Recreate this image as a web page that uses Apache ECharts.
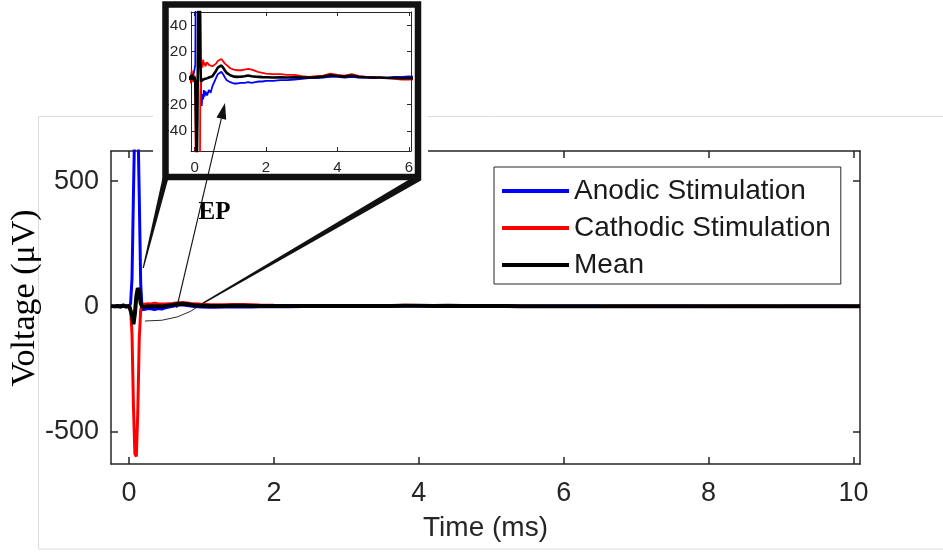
<!DOCTYPE html>
<html>
<head>
<meta charset="utf-8">
<script src="https://cdn.jsdelivr.net/npm/echarts@6/dist/echarts.min.js"></script>
<style>
  html, body { margin: 0; padding: 0; background: #ffffff; }
  #chart { width: 943px; height: 552px; }
</style>
</head>
<body>
<div id="chart"></div>
<script>
// Sample times (ms) of the averaged recordings
const time = [
  -0.25, -0.2, -0.16, -0.12, -0.08, -0.04, 0,
  0.02, 0.04, 0.06, 0.08, 0.1, 0.12, 0.14, 0.16, 0.18, 0.2, 0.22, 0.24, 0.26, 0.28, 0.3,
  0.35, 0.4, 0.45, 0.5, 0.55, 0.6, 0.65, 0.7, 0.75, 0.8, 0.85, 0.9,
  1.0, 1.1, 1.2, 1.3, 1.4, 1.5, 1.6, 1.7, 1.8, 1.9, 2.0,
  2.2, 2.4, 2.6, 2.8, 3.0, 3.2, 3.4, 3.6, 3.8, 4.0, 4.2, 4.4, 4.6, 4.8, 5.0, 5.2, 5.4, 5.6, 5.8, 6.0,
  6.5, 7.0, 7.5, 8.0, 8.5, 9.0, 9.5, 10.0, 10.09
];

// Anodic stimulation response (µV)
const anodic = [
  0, 1, -1, 2, -1, 1, 0,
  10, 110, 450, 760, 860, 760, 440, 90, -14, -21, -12, -16, -9, -14, -10,
  -13, -9, -11, -6, -3, 0, 3, 4.5, 4.8, 3, 0.5, -1.5,
  -3, -4, -4, -3.5, -3.5, -3, -3.5, -3, -2.5, -2.5, -2,
  -2, -1.5, -1.5, -1, -0.5, 0, 0, 0.5, 1, 1, 0.5, 1, 0.5, 0.5, 0, 0.5, 0.5, 1, 1, 1.3,
  0.5, 0, 0.5, 0, -0.5, 0, 0.5, 0, 0
];

// Cathodic stimulation response (µV)
const cathodic = [
  1, -2, 3, -4, 6, -3, 2,
  -10, -110, -400, -590, -600, -420, -130, -15, 9, 13, 8, 14, 10, 12, 9,
  12, 10, 9, 9, 10, 11, 13, 14, 14.5, 13, 11, 9.5,
  7.5, 6.5, 6, 6, 6.5, 7, 6.5, 5.5, 4.5, 4, 3.5,
  3, 3, 2.5, 2.5, 1.5, 1, 1.5, 2, 3.5, 2.5, 2, 3, 1.5, 1, 1, 0.5, 0, -0.5, -1, -1,
  -0.5, 0.5, 0, -0.5, 0.5, 0, -0.5, 0, 0
];

// Mean of the two polarities (µV)
const meanTrace = [
  0.5, -0.5, 1, -1, 2.5, -1, 1,
  -3, -35, -72, -30, 40, 72, 60, 12, -2.5, -4, -2, -1, 0.5, -1, -0.5,
  -0.5, 0.5, -1, 1.5, 3.5, 5.5, 8, 9.2, 9.6, 8, 5.8, 4,
  2.2, 1.2, 1, 1.2, 1.5, 2, 1.5, 1.2, 1, 0.8, 0.7,
  0.5, 0.7, 0.5, 0.7, 0.5, 0.5, 0.7, 1.2, 2.2, 1.7, 1.2, 2, 1, 0.7, 0.5, 0.5, 0.2, 0.2, 0, 0.1,
  0, 0.2, 0.2, -0.2, 0, 0, 0, 0, 0
];

const seriesNames = ['Anodic Stimulation', 'Cathodic Stimulation', 'Mean'];
const seriesColors = ['#0000ff', '#ff0000', '#000000'];

// Tick positions
const mainXTicks = [0, 2, 4, 6, 8, 10];
const mainYTicks = [-500, 0, 500];
const insetXTicks = [0, 2, 4, 6];
const insetYTicks = [-40, -20, 0, 20, 40];

const traces = [anodic, cathodic, meanTrace];
const pairs = v => time.map((t, i) => [t, v[i]]);

const axisGray = '#262626';
const sans = '"Liberation Sans", Arial, Helvetica, sans-serif';
const serif = '"Liberation Serif", "Times New Roman", serif';

function axisDef(grid, pos, min, max, ticks, showLabel, fontSize, tickLen, margin, width) {
  return {
    type: 'value', gridIndex: grid, position: pos, min: min, max: max, z: grid === 1 ? 20 : 0,
    axisLine: { show: true, onZero: false, lineStyle: { color: axisGray, width: width } },
    axisTick: { show: true, inside: true, length: tickLen, customValues: ticks,
                lineStyle: { color: axisGray, width: width } },
    axisLabel: { show: showLabel, customValues: ticks, color: axisGray, fontSize: fontSize,
                 fontFamily: sans, margin: margin },
    splitLine: { show: false }
  };
}

const mainX = axisDef(0, 'bottom', -0.25, 10.09, mainXTicks, true, 27, 7, 16, 1.5);
mainX.name = 'Time (ms)';
mainX.nameLocation = 'middle';
mainX.nameGap = 50;
mainX.nameTextStyle = { color: axisGray, fontSize: 28, fontFamily: sans };

const series = [];
traces.forEach((v, k) => {
  series.push({
    name: seriesNames[k], type: 'line', xAxisIndex: 0, yAxisIndex: 0,
    data: pairs(v), showSymbol: false, symbol: 'none', clip: true, z: 2 + k,
    lineStyle: { color: seriesColors[k], width: k === 2 ? 4 : 3 },
    itemStyle: { color: seriesColors[k] }
  });
});
traces.forEach((v, k) => {
  series.push({
    name: seriesNames[k], type: 'line', xAxisIndex: 2, yAxisIndex: 2,
    data: pairs(v), showSymbol: false, symbol: 'none', clip: true, z: 21 + k,
    lineStyle: { color: seriesColors[k], width: k === 2 ? 2.6 : 1.8 },
    itemStyle: { color: seriesColors[k] }
  });
});

// Callout geometry (arrow to the evoked potential)
const tail = [176.7, 308], tip = [225, 103];
const dx = tip[0] - tail[0], dy = tip[1] - tail[1], len = Math.hypot(dx, dy);
const ux = dx / len, uy = dy / len, headLen = 16, headHalf = 5;
const base = [tip[0] - ux * headLen, tip[1] - uy * headLen];

const option = {
  animation: false,
  backgroundColor: '#ffffff',
  grid: [
    { left: 111, top: 151, width: 749, height: 313, containLabel: false, outerBoundsMode: 'none' },
    { left: 191, top: 12, width: 220, height: 139, containLabel: false, outerBoundsMode: 'none' }
  ],
  xAxis: [
    mainX,
    axisDef(0, 'top', -0.25, 10.09, mainXTicks, false, 27, 7, 8, 1.5),
    axisDef(1, 'bottom', -0.1, 6.06, insetXTicks, true, 15, 4, 9, 1),
    axisDef(1, 'top', -0.1, 6.06, insetXTicks, false, 15, 4, 8, 1)
  ],
  yAxis: [
    axisDef(0, 'left', -630, 620, mainYTicks, true, 27, 7, 12, 1.5),
    axisDef(0, 'right', -630, 620, mainYTicks, false, 27, 7, 8, 1.5),
    axisDef(1, 'left', -55, 50, insetYTicks, true, 15.5, 4, 4, 1),
    axisDef(1, 'right', -55, 50, insetYTicks, false, 15, 4, 8, 1)
  ],
  legend: {
    data: seriesNames,
    orient: 'vertical',
    left: 494, top: 167,
    icon: 'rect',
    itemWidth: 67, itemHeight: 4,
    itemGap: 7,
    padding: [9, 10, 4, 8],
    borderColor: axisGray, borderWidth: 1,
    backgroundColor: '#ffffff',
    selectedMode: false,
    textStyle: { color: '#1a1a1a', fontSize: 28, fontFamily: sans, lineHeight: 30 }
  },
  graphic: [
    { type: 'rect', z: 0, silent: true,
      shape: { x: 38.5, y: 116.5, width: 920, height: 432.5 },
      style: { fill: 'none', stroke: '#dcdcdc', lineWidth: 1 } },
    { type: 'rect', z: 10, silent: true,
      shape: { x: 153, y: 0, width: 275, height: 184 },
      style: { fill: '#ffffff' } },
    { type: 'rect', z: 30, silent: true,
      shape: { x: 165.5, y: 4.5, width: 252.5, height: 172.5 },
      style: { fill: 'none', stroke: '#111111', lineWidth: 6.5 } },
    { type: 'polygon', z: 30, silent: true,
      shape: { points: [[162.5, 178], [168.5, 178], [143.8, 268], [142.6, 268]] },
      style: { fill: '#111111' } },
    { type: 'polygon', z: 30, silent: true,
      shape: { points: [[417.5, 174.5], [421, 180.5], [203.5, 303.8], [202.7, 302.4]] },
      style: { fill: '#111111' } },
    { type: 'bezierCurve', z: 30, silent: true,
      shape: { x1: 203, y1: 303, cpx1: 180, cpy1: 322, x2: 145, y2: 321 },
      style: { fill: 'none', stroke: '#111111', lineWidth: 0.9 } },
    { type: 'line', z: 31, silent: true,
      shape: { x1: tail[0], y1: tail[1], x2: base[0], y2: base[1] },
      style: { stroke: '#111111', lineWidth: 1.1 } },
    { type: 'polygon', z: 31, silent: true,
      shape: { points: [tip,
        [base[0] - uy * headHalf, base[1] + ux * headHalf],
        [base[0] + uy * headHalf, base[1] - ux * headHalf]] },
      style: { fill: '#111111' } },
    { type: 'text', z: 31, silent: true, x: 214.5, y: 213,
      style: { text: 'EP', font: 'bold 25px ' + serif, fill: '#000000',
               align: 'center', verticalAlign: 'middle' } },
    { type: 'text', z: 31, silent: true, x: 25, y: 298, rotation: Math.PI / 2,
      style: { text: 'Voltage (\u03bcV)', font: '34px ' + serif, fill: '#000000',
               align: 'center', verticalAlign: 'middle' } }
  ],
  series: series
};

const chart = echarts.init(document.getElementById('chart'), null, { renderer: 'canvas' });
chart.setOption(option);
</script>
</body>
</html>
